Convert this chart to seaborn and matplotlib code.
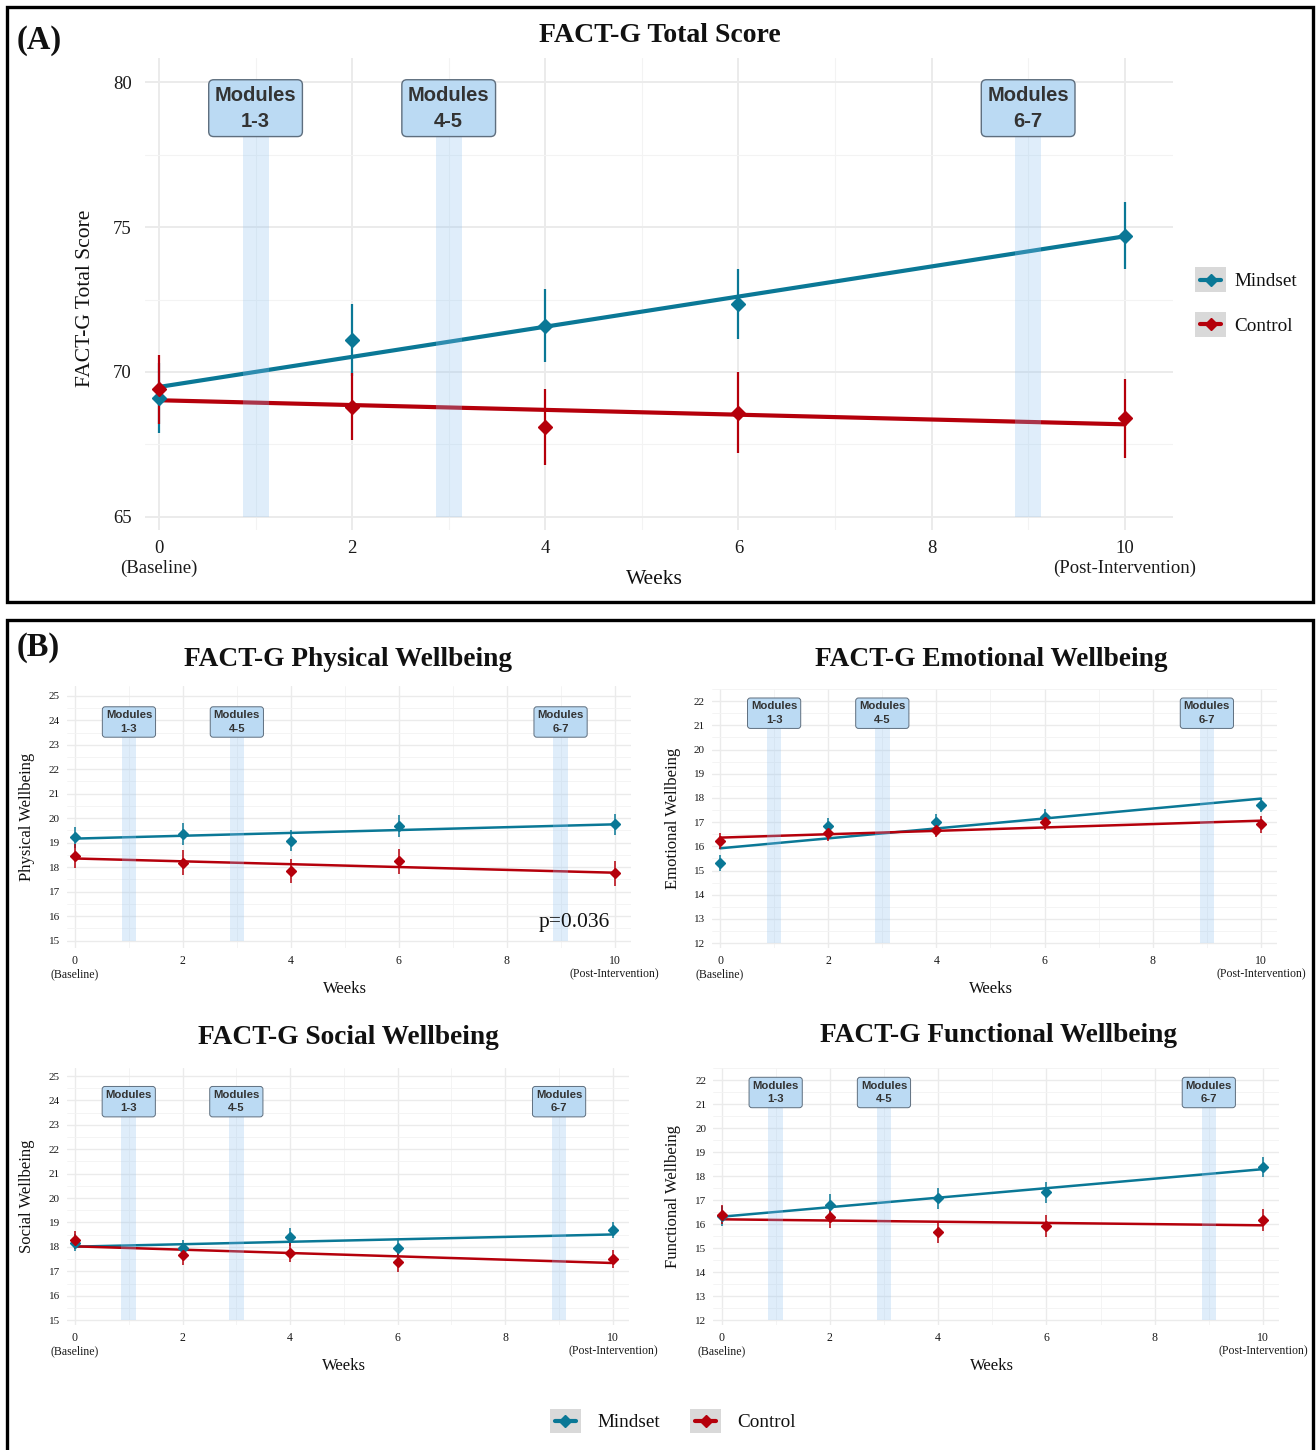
import numpy as np
import matplotlib
matplotlib.use("Agg")
import matplotlib.pyplot as plt
import seaborn as sns
from matplotlib.lines import Line2D
from matplotlib.patches import Rectangle
from matplotlib.legend_handler import HandlerBase
from matplotlib.ticker import MultipleLocator

weeks = [0, 2, 4, 6, 10]
week_ticks = [0, 2, 4, 6, 8, 10]
week_labels = ["0\n(Baseline)", "2", "4", "6", "8", "10\n(Post-Intervention)"]
module_weeks = [1, 3, 9]
module_labels = ["Modules\n1-3", "Modules\n4-5", "Modules\n6-7"]

# panel A
total_mindset = [69.1, 71.1, 71.6, 72.35, 74.7]
total_mindset_se = [1.2, 1.25, 1.25, 1.2, 1.15]
total_control = [69.4, 68.8, 68.1, 68.6, 68.4]
total_control_se = [1.2, 1.15, 1.3, 1.4, 1.35]

# panel B
phys_mindset = [19.22, 19.36, 19.09, 19.70, 19.75]
phys_mindset_se = [0.42, 0.45, 0.44, 0.45, 0.42]
phys_control = [18.46, 18.19, 17.86, 18.24, 17.75]
phys_control_se = [0.5, 0.52, 0.49, 0.51, 0.51]

emo_mindset = [15.30, 16.86, 17.01, 17.23, 17.71]
emo_mindset_se = [0.33, 0.3, 0.32, 0.3, 0.28]
emo_control = [16.22, 16.54, 16.68, 16.99, 16.91]
emo_control_se = [0.33, 0.32, 0.3, 0.32, 0.34]

soc_mindset = [18.17, 17.96, 18.39, 17.94, 18.69]
soc_mindset_se = [0.34, 0.33, 0.37, 0.34, 0.34]
soc_control = [18.28, 17.66, 17.77, 17.39, 17.51]
soc_control_se = [0.38, 0.4, 0.38, 0.4, 0.38]

func_mindset = [16.33, 16.79, 17.07, 17.32, 18.39]
func_mindset_se = [0.42, 0.46, 0.43, 0.42, 0.42]
func_control = [16.40, 16.28, 15.68, 15.92, 16.17]
func_control_se = [0.41, 0.45, 0.47, 0.46, 0.47]

MINDSET = "#0A7896"
CONTROL = "#B5000B"
BAND = "#8EC1F0"
SERIF = ["Liberation Serif", "DejaVu Serif"]
SANS = ["Liberation Sans", "DejaVu Sans"]

sns.set_theme(style="white")
plt.rcParams["font.family"] = SERIF
plt.rcParams["text.color"] = "#111111"

W, H = 1316, 1450
fig = plt.figure(figsize=(W / 100, H / 100), dpi=100)


class KeyHandler(HandlerBase):
    # ggplot-like legend key: grey square, short line, diamond in the middle
    def create_artists(self, legend, orig_handle, xdescent, ydescent, width, height, fontsize, trans):
        col = orig_handle.get_color()
        x0, y0 = -xdescent, -ydescent
        yc = y0 + height / 2
        bg = Rectangle((x0, y0), width, height, fc="#D9D9D9", ec="none", transform=trans)
        ln = Line2D([x0 + 0.15 * width, x0 + 0.85 * width], [yc, yc], color=col, lw=3,
                    transform=trans)
        mk = Line2D([x0 + width / 2], [yc], marker="D", ms=6.5, color=col, ls="none",
                    transform=trans)
        return [bg, ln, mk]


def px_axes(left, top, right, bottom):
    return fig.add_axes([left / W, 1 - bottom / H, (right - left) / W, (bottom - top) / H])


def draw_panel(ax, mind, mind_se, ctrl, ctrl_se, ylim, ymajor, label_y, big):
    lw_fit = 3.0 if big else 1.8
    lw_err = 1.6 if big else 1.1
    ms = 7.5 if big else 4.6
    for vals, se, col in [(mind, mind_se, MINDSET), (ctrl, ctrl_se, CONTROL)]:
        sns.regplot(x=weeks, y=vals, ax=ax, scatter=False, ci=None,
                    line_kws=dict(color=col, lw=lw_fit, zorder=3))
        ax.errorbar(weeks, vals, yerr=se, fmt="D", color=col, ms=ms,
                    elinewidth=lw_err, capsize=0, zorder=4)
    ax.set_xlim(-0.15, 10.5 if big else 10.3)
    ax.set_ylim(*ylim)
    bottom = ylim[0] + (ymajor - (ylim[0] % ymajor)) % ymajor
    yfrac_lo = (bottom - ylim[0]) / (ylim[1] - ylim[0])
    yfrac_hi = (label_y - ylim[0]) / (ylim[1] - ylim[0])
    for mw, ml in zip(module_weeks, module_labels):
        ax.axvspan(mw - 0.135, mw + 0.135, ymin=yfrac_lo, ymax=yfrac_hi,
                   color=BAND, alpha=0.28, lw=0, zorder=5)
        ax.text(mw, label_y, ml, ha="center", va="center", family=SANS,
                fontweight="bold", fontsize=14.5 if big else 8.2, color="#333333",
                linespacing=1.45, zorder=6,
                bbox=dict(boxstyle="round,pad=0.3,rounding_size=0.25",
                          fc="#BBDAF3", ec="#5E6E7E", lw=1.0 if big else 0.7))
    ax.set_xticks(week_ticks)
    ax.set_xticklabels(week_labels)
    ax.xaxis.set_minor_locator(MultipleLocator(1))
    ax.yaxis.set_major_locator(MultipleLocator(ymajor))
    ax.yaxis.set_minor_locator(MultipleLocator(ymajor / 2))
    ax.grid(which="major", color="#EBEBEB", lw=1.4 if big else 1.0)
    ax.grid(which="minor", color="#F3F3F3", lw=0.8 if big else 0.6)
    ax.set_axisbelow(True)
    ax.tick_params(which="both", length=0)
    ax.tick_params(axis="x", labelsize=13.5 if big else 8.5, pad=7 if big else 5,
                   labelcolor="#1a1a1a")
    ax.tick_params(axis="y", labelsize=13.5 if big else 8, pad=9 if big else 5,
                   labelcolor="#1a1a1a")
    for s in ax.spines.values():
        s.set_visible(False)
    ax.set_facecolor("white")


# frames
fig.add_artist(Rectangle((7 / W, 1 - 602 / H), 1306 / W, 595 / H, transform=fig.transFigure,
                         fill=False, ec="black", lw=2.4))
fig.add_artist(Rectangle((7 / W, 1 - 1460 / H), 1306 / W, 840 / H, transform=fig.transFigure,
                         fill=False, ec="black", lw=2.4))
fig.text(17 / W, 1 - 40 / H, "(A)", fontsize=23.5, fontweight="bold", va="center")
fig.text(17 / W, 1 - 648 / H, "(B)", fontsize=23.5, fontweight="bold", va="center")

# panel A
axA = px_axes(144.5, 58, 1173, 530)
draw_panel(axA, total_mindset, total_mindset_se, total_control, total_control_se,
           (64.55, 80.83), 5, 79.1, True)
fig.text(660 / W, 1 - 36 / H, "FACT-G Total Score", fontsize=20, fontweight="bold",
         ha="center", va="center")
fig.text(654 / W, 1 - 580 / H, "Weeks", fontsize=15.5, ha="center", va="center")
fig.text(85 / W, 1 - 298 / H, "FACT-G Total Score", fontsize=15.5, rotation=90,
         ha="center", va="center")

handles = [Line2D([], [], color=MINDSET), Line2D([], [], color=CONTROL)]
fig.legend(handles, ["Mindset", "Control"], handler_map={Line2D: KeyHandler()},
           loc="center left", bbox_to_anchor=(1178 / W, 1 - 302 / H), frameon=False,
           fontsize=13.8, handlelength=1.6, handleheight=1.6, labelspacing=1.05,
           handletextpad=0.45)

# panel B
sub = [
    ("FACT-G Physical Wellbeing", "Physical Wellbeing", phys_mindset, phys_mindset_se,
     phys_control, phys_control_se, (14.7, 25.4), 23.93, (66.9, 686, 630.7, 948)),
    ("FACT-G Emotional Wellbeing", "Emotional Wellbeing", emo_mindset, emo_mindset_se,
     emo_control, emo_control_se, (11.8, 22.5), 21.5, (711.9, 689, 1277.2, 948)),
    ("FACT-G Social Wellbeing", "Social Wellbeing", soc_mindset, soc_mindset_se,
     soc_control, soc_control_se, (14.8, 25.35), 23.95, (66.9, 1067.5, 629, 1325)),
    ("FACT-G Functional Wellbeing", "Functional Wellbeing", func_mindset, func_mindset_se,
     func_control, func_control_se, (11.8, 22.5), 21.48, (713.4, 1068, 1279.2, 1325)),
]
title_y = [660, 660, 1038, 1036]
title_x = [348, 991, 348, 998]
ylab_x = [27, 673, 27, 673]
for i, (title, ylab, m, mse, c, cse, ylim, ly, box) in enumerate(sub):
    ax = px_axes(*box)
    draw_panel(ax, m, mse, c, cse, ylim, 1, ly, False)
    cx = (box[0] + box[2]) / 2
    fig.text(title_x[i] / W, 1 - title_y[i] / H, title, fontsize=19.7, fontweight="bold",
             ha="center", va="center")
    fig.text((cx - 4) / W, 1 - (box[3] + 41) / H, "Weeks", fontsize=12, ha="center", va="center")
    fig.text(ylab_x[i] / W, 1 - (box[1] + box[3]) / 2 / H, ylab, fontsize=12, rotation=90,
             ha="center", va="center")
    if i == 0:
        ax.text(9.25, 15.75, "p=0.036", fontsize=15.5, ha="center", va="center", zorder=7)

fig.legend(handles, ["Mindset", "Control"], handler_map={Line2D: KeyHandler()},
           loc="center", bbox_to_anchor=(673 / W, 1 - 1421 / H), frameon=False, ncol=2,
           fontsize=13.8, handlelength=1.6, handleheight=1.6, handletextpad=0.85,
           columnspacing=1.6)

fig.savefig("out.png", dpi=100)
